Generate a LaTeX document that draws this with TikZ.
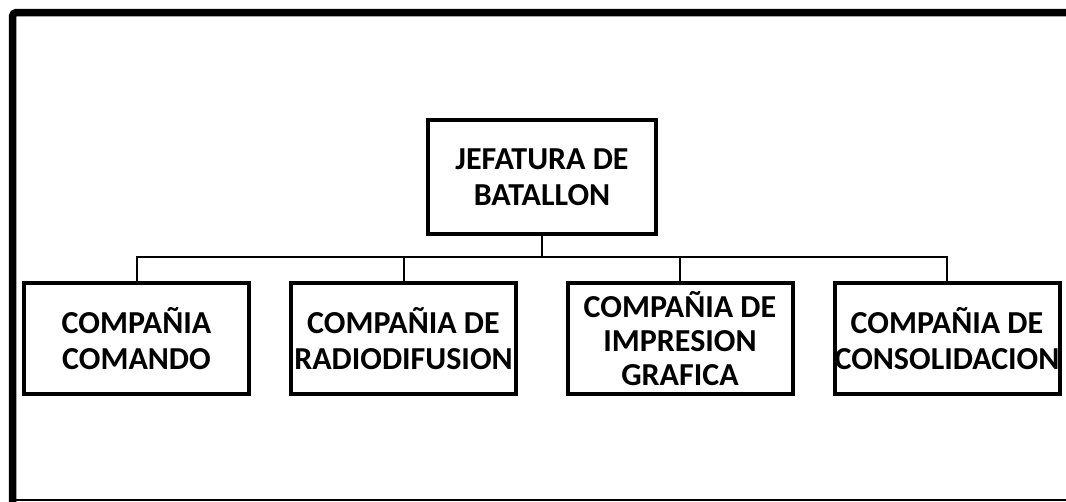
\documentclass[tikz,border=0pt]{standalone}
\usepackage{fontspec}
\setmainfont{Carlito}
\usepackage{tikz}
\usetikzlibrary{positioning}
\tikzset{unit/.style = {draw, line width = 4, fill = white, align = center,
                        inner sep = 0, minimum width = 225, minimum height = 111,
                        font = \fontsize{32}{36}\selectfont\bfseries}}
\tikzset{boss/.style = {unit, minimum width = 228, minimum height = 114}}
\tikzset{link/.style = {line width = 2}}
\tikzset{frame/.style = {line width = 7.5, rounded corners = 4}}

\begin{document}
\begin{tikzpicture}[x=1pt, y=-1pt]
    \useasboundingbox (0, 0) rectangle (1066, 501);
    \draw [frame] (12.5, 510) -- (12.5, 12.5) -- (1075, 12.5);
    \draw [line width = 2] (12.5, 499.8) -- (1066, 499.8);

    \node [boss] (jefe) at (542, 177) {JEFATURA DE\\BATALLON};
    \node [unit] (comando) at (136.5, 338.5) {COMPAÑIA\\COMANDO};
    \node [unit] (radio) at (403.5, 338.5) {COMPAÑIA DE\\RADIODIFUSION};
    \node [unit, font = \fontsize{32}{34}\selectfont\bfseries] (grafica) at (680, 338.5)
      {COMPAÑIA DE\\IMPRESION\\GRAFICA};
    \node [unit] (conso) at (947, 338.5) {COMPAÑIA DE\\CONSOLIDACION};

    \coordinate (bus) at (542, 257);
    \draw [link] (jefe.south) -- (bus);
    \draw [link] (bus) -| (comando.north);
    \draw [link] (bus) -| (radio.north);
    \draw [link] (bus) -| (grafica.north);
    \draw [link] (bus) -| (conso.north);
  \end{tikzpicture}
\end{document}
